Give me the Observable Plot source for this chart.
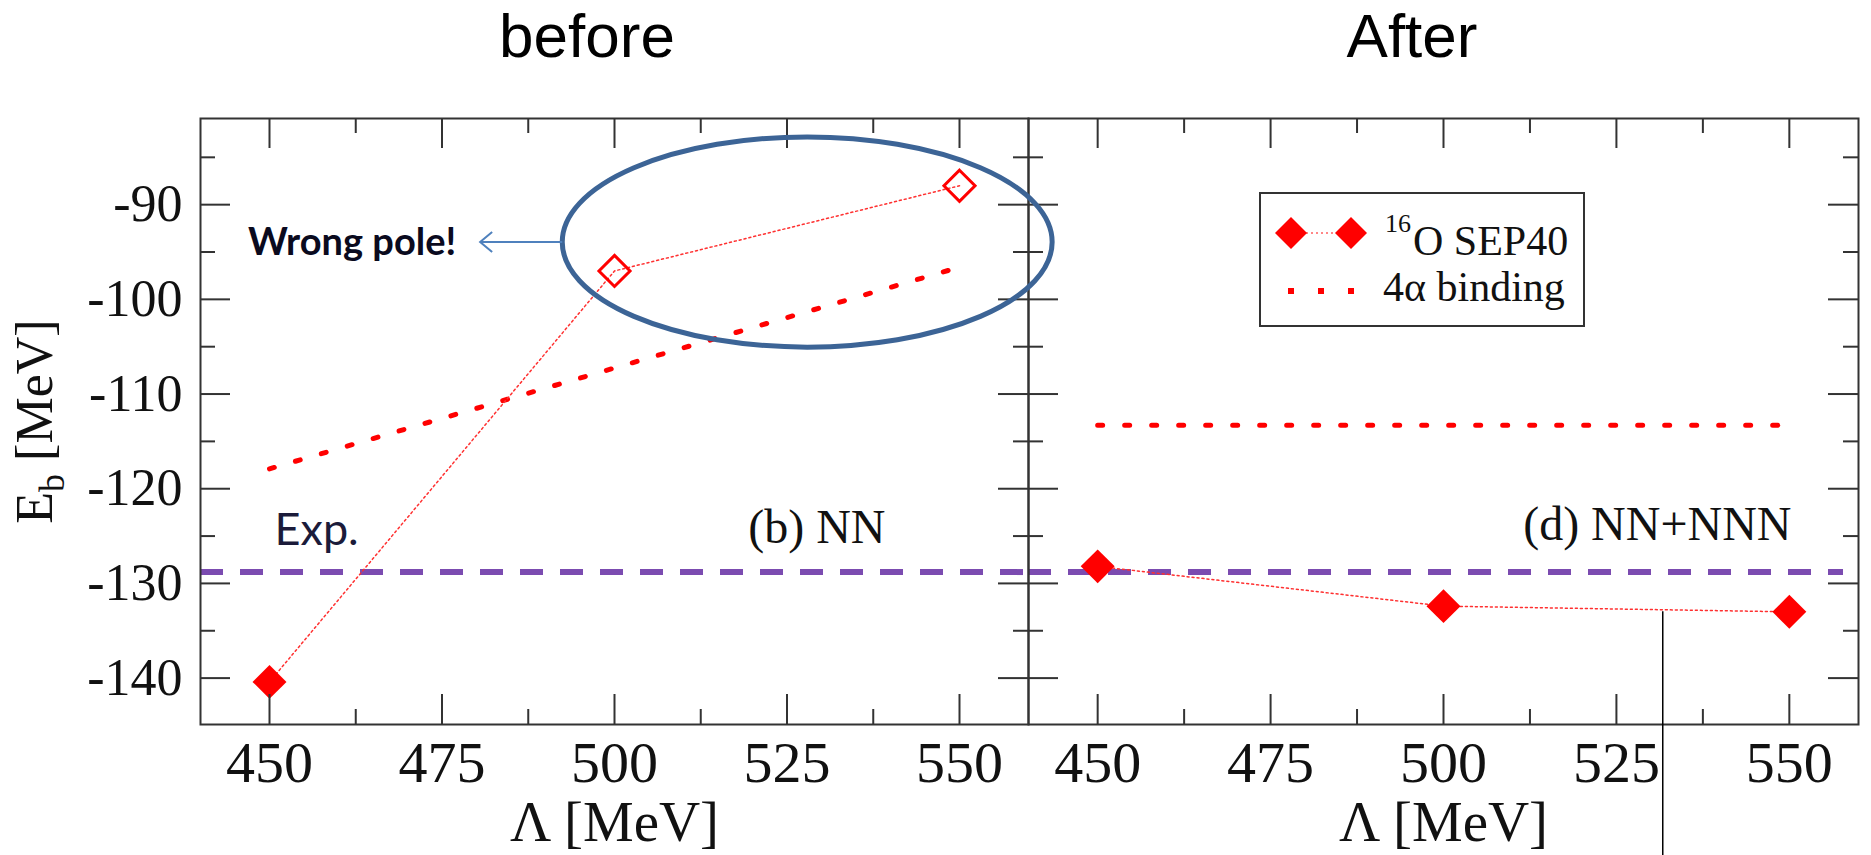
<!DOCTYPE html>
<html><head><meta charset="utf-8">
<script src="https://cdn.jsdelivr.net/npm/d3@7"></script>
<script src="https://cdn.jsdelivr.net/npm/@observablehq/plot@0.6"></script>
<style>
body{margin:0;background:#fff;}
#wrap{position:relative;width:1871px;height:855px;overflow:hidden;background:#fff;}
.panel{position:absolute;top:0;}
.title{position:absolute;top:5px;width:400px;text-align:center;font-family:"Liberation Sans",Arial,sans-serif;font-size:62px;color:#000;line-height:1;}
</style></head>
<body><div id="wrap"></div>
<script>
// ---- data ----
const lambda = [450, 500, 550];
const sep40NN = [-140.4, -97.0, -88.0];
const sep40NNfilled = [true, false, false];
const sep40NNN = [-128.2, -132.4, -133.0];
const alphaLambda = [450, 550];
const alphaNN = [-117.9, -96.6];
const alphaNNN = [-113.3, -113.3];
const expBinding = -128.8;
const xMajor = [450, 475, 500, 525, 550];
const xMinor = [462.5, 487.5, 512.5, 537.5];
const yMajor = [-140, -130, -120, -110, -100, -90];
const yMinor = [-135, -125, -115, -105, -95, -85];
const panelTitles = ["before", "After"];
const panelTags = ["(b) NN", "(d) NN+NNN"];
const xLabel = "Λ [MeV]";
const yLabel = "E_b [MeV]";
const expLabel = "Exp.";
const legendLabels = ["16O SEP40", "4α binding"];
const annotation = {text: "Wrong pole!", cx: 528, cy: -94, rx: 35.5, ry: 11.1, arrowTo: 480.6};
const artifact = [{x: 531.7, y1: -133.0, y2: -159}];

const H = 855, MT = 118, MB = 131, FH = H - MT - MB;
const serif = "'Liberation Serif', 'Times New Roman', serif";
const RED = "#ff0000";

function panel({W, ML, MR, sep, filled, alpha, tag, tagDx, tagDy, left, dashInsetRight}) {
  const FW = W - ML - MR;
  const sepData = lambda.map((l, i) => ({l, e: sep[i], f: filled[i]}));
  const alphaData = alphaLambda.map((l, i) => ({l, e: alpha[i]}));
  const tickStyle = {stroke: "#333", strokeWidth: 2};
  const marks = [
    Plot.ruleY([expBinding], {y: d => d, stroke: "#7b4bb0", strokeWidth: 6, strokeDasharray: "23,17", insetRight: dashInsetRight}),
    Plot.line(alphaData, {x: "l", y: "e", stroke: RED, strokeWidth: 5, strokeDasharray: "5,22"}),
    Plot.line(sepData, {x: "l", y: "e", stroke: "#ff3030", strokeWidth: 1.5, strokeDasharray: "2,3"}),
    Plot.dot(sepData.filter(d => d.f), {x: "l", y: "e", symbol: "diamond2", r: 15.3, fill: RED}),
    Plot.dot(sepData.filter(d => !d.f), {x: "l", y: "e", symbol: "diamond2", r: 14, fill: "none", stroke: RED, strokeWidth: 3}),
    Plot.tickY(yMajor, {y: d => d, insetRight: FW - 30, ...tickStyle}),
    Plot.tickY(yMajor, {y: d => d, insetLeft: FW - 30, ...tickStyle}),
    Plot.tickY(yMinor, {y: d => d, insetRight: FW - 15, ...tickStyle}),
    Plot.tickY(yMinor, {y: d => d, insetLeft: FW - 15, ...tickStyle}),
    Plot.tickX(xMajor, {x: d => d, insetTop: FH - 30, ...tickStyle}),
    Plot.tickX(xMajor, {x: d => d, insetBottom: FH - 30, ...tickStyle}),
    Plot.tickX(xMinor, {x: d => d, insetTop: FH - 15, ...tickStyle}),
    Plot.tickX(xMinor, {x: d => d, insetBottom: FH - 15, ...tickStyle}),
    Plot.frame({stroke: "#333", strokeWidth: 2}),
    Plot.axisX({ticks: xMajor, tickSize: 0, tickPadding: 16, fontSize: 58, fontFamily: serif, fill: "#111", tickFormat: d => String(d), label: null}),
    Plot.text([xLabel], {frameAnchor: "bottom", dy: 98, text: d => d, textAnchor: "middle", lineAnchor: "middle", fontSize: 57, fontFamily: serif, fill: "#111"}),
    Plot.text([tag], {frameAnchor: "bottom-right", dx: tagDx, dy: tagDy, text: d => d, textAnchor: "end", lineAnchor: "middle", fontSize: 48, fontFamily: serif, fill: "#111"})
  ];
  if (left) {
    marks.push(
      Plot.axisY({ticks: yMajor, tickSize: 0, tickPadding: 18, fontSize: 52, fontFamily: serif, fill: "#111", tickFormat: d => String(d), label: null}),
      Plot.text([yLabel], {frameAnchor: "left", dx: -165, rotate: -90, text: d => d, textAnchor: "middle", lineAnchor: "middle", fontSize: 52, fontFamily: serif, fill: "#111"}),
      Plot.text([expLabel], {frameAnchor: "bottom-left", dx: 74, dy: -194, text: d => d, textAnchor: "start", lineAnchor: "middle", fontSize: 45, fontFamily: "Lato, sans-serif", fill: "#1b1b3a"})
    );
  } else {
    marks.push(Plot.ruleX(artifact, {x: "x", y1: "y1", y2: "y2", stroke: "#000", strokeWidth: 1.5}));
  }
  return Plot.plot({
    width: W, height: H, marginLeft: ML, marginRight: MR, marginTop: MT, marginBottom: MB,
    x: {domain: [440, 560]},
    y: {domain: [-144.9, -80.9], axis: left ? undefined : null},
    style: {background: "transparent", overflow: "visible"},
    marks
  });
}

const wrap = document.getElementById("wrap");
const pl = panel({W: 1028, ML: 200, MR: 0, sep: sep40NN, filled: sep40NNfilled, alpha: alphaNN, tag: panelTags[0], tagDx: -143, tagDy: -197, left: true, dashInsetRight: 0});
const pr = panel({W: 843, ML: 0, MR: 13, sep: sep40NNN, filled: [true, true, true], alpha: alphaNNN, tag: panelTags[1], tagDx: -67, tagDy: -200, left: false, dashInsetRight: 15});
pl.classList.add("panel"); pl.style.left = "0px"; pl.style.zIndex = 2;
pr.classList.add("panel"); pr.style.left = "1028px"; pr.style.zIndex = 1;
wrap.appendChild(pr);
wrap.appendChild(pl);

// subscript in y label
d3.select(pl).selectAll("text").filter(function() { return this.textContent === yLabel; }).each(function() {
  const t = d3.select(this);
  t.text(null);
  t.append("tspan").text("E");
  t.append("tspan").attr("dy", 12).attr("font-size", 36).text("b");
  t.append("tspan").attr("dy", -12).text(" [MeV]");
});

// titles
[[panelTitles[0], 587], [panelTitles[1], 1412]].forEach(([t, cx]) => {
  const d = document.createElement("div");
  d.className = "title"; d.textContent = t; d.style.left = (cx - 200) + "px"; d.style.zIndex = 4;
  wrap.appendChild(d);
});

// legend
const lg = d3.select(wrap).append("svg").attr("width", 330).attr("height", 140)
  .style("position", "absolute").style("left", "1258px").style("top", "191px").style("z-index", 4);
lg.append("rect").attr("x", 2).attr("y", 2).attr("width", 324).attr("height", 133).attr("fill", "#fff").attr("stroke", "#333").attr("stroke-width", 2);
lg.append("line").attr("x1", 33).attr("x2", 93).attr("y1", 42).attr("y2", 42).attr("stroke", "#ff6060").attr("stroke-width", 1.5).attr("stroke-dasharray", "2,3");
[33, 93].forEach(x => lg.append("path").attr("d", `M${x},${42 - 16}L${x + 16},42L${x},${42 + 16}L${x - 16},42Z`).attr("fill", RED));
const t1 = lg.append("text").attr("x", 127).attr("y", 64).attr("font-family", serif).attr("font-size", 42).attr("fill", "#111");
t1.append("tspan").attr("font-size", 26).attr("dy", -23).text(legendLabels[0].slice(0, 2));
t1.append("tspan").attr("dy", 23).attr("dx", 2).text(legendLabels[0].slice(2));
[33, 63, 93].forEach(x => lg.append("rect").attr("x", x - 3).attr("y", 97).attr("width", 6).attr("height", 6).attr("fill", RED));
lg.append("text").attr("x", 125).attr("y", 110).attr("font-family", serif).attr("font-size", 42).attr("fill", "#111").text(legendLabels[1]);

// annotation overlay (positioned through the left panel's scales)
const sx = pl.scale("x"), sy = pl.scale("y");
const ov = d3.select(wrap).append("svg").attr("width", 1871).attr("height", 855)
  .style("position", "absolute").style("left", 0).style("top", 0).style("z-index", 5).style("pointer-events", "none");
const cx = sx.apply(annotation.cx), cy = sy.apply(annotation.cy);
const rx = sx.apply(annotation.cx + annotation.rx) - cx, ry = sy.apply(annotation.cy - annotation.ry) - cy;
ov.append("ellipse").attr("cx", cx).attr("cy", cy).attr("rx", rx).attr("ry", ry).attr("fill", "none").attr("stroke", "#3c6496").attr("stroke-width", 5);
const ax = sx.apply(annotation.arrowTo);
ov.append("line").attr("x1", cx - rx).attr("x2", ax).attr("y1", cy).attr("y2", cy).attr("stroke", "#4f81bd").attr("stroke-width", 2);
ov.append("path").attr("d", `M${ax + 12},${cy - 10}L${ax},${cy}L${ax + 12},${cy + 10}`).attr("fill", "none").attr("stroke", "#4f81bd").attr("stroke-width", 2);
ov.append("text").attr("x", ax - 24).attr("y", cy + 13).attr("text-anchor", "end").attr("font-family", "Lato, sans-serif").attr("font-weight", "bold").attr("font-size", 38).attr("fill", "#0a0a1e").text(annotation.text);
</script>
</body></html>
